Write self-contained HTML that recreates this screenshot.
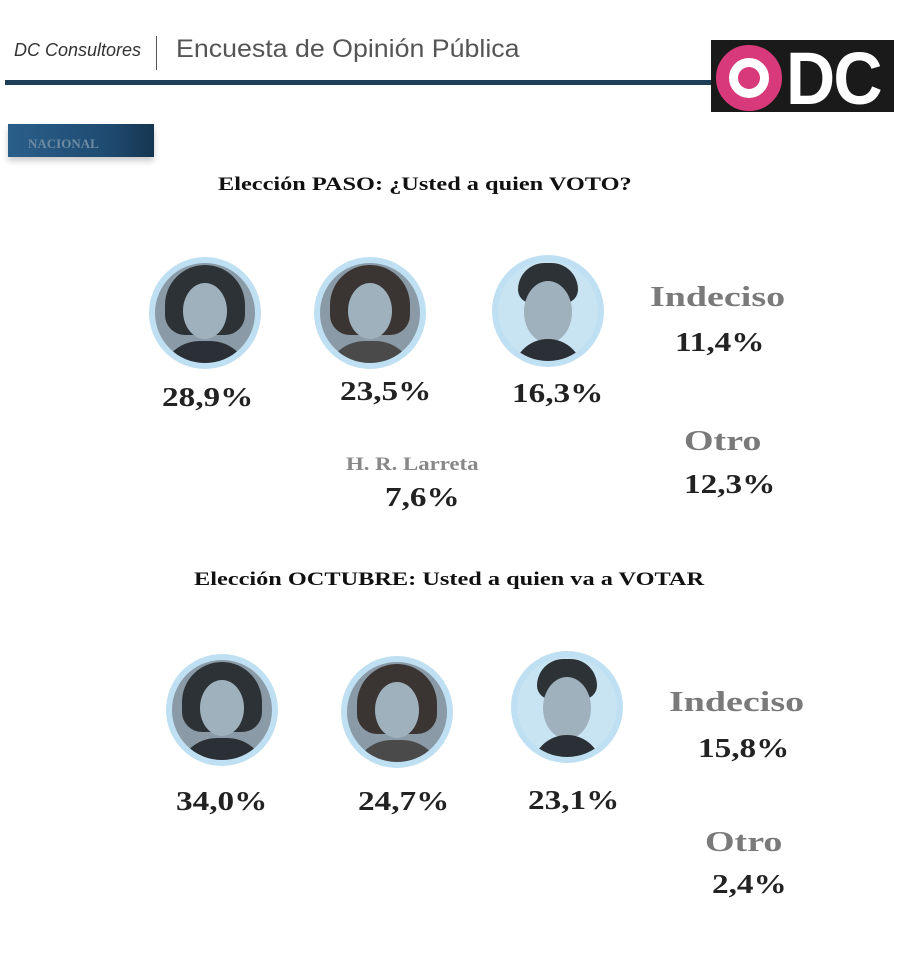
<!DOCTYPE html>
<html><head><meta charset="utf-8"><style>
body{margin:0;width:912px;height:953px;background:#fff;position:relative;overflow:hidden;font-family:"Liberation Serif",serif}
.a{position:absolute;white-space:nowrap;transform-origin:0 0}
.p{font-weight:bold;font-size:27px;color:#222;transform:scaleX(1.23)}
.g{font-weight:bold;font-size:29px;color:#7a7a7a;transform:scaleX(1.31)}
.c{position:absolute;width:112px;height:112px;border-radius:50%;background:#bfe0f2;overflow:hidden}
.c .in{position:absolute;left:6px;top:6px;width:100px;height:100px;border-radius:50%;background:#8a9aa6;overflow:hidden}
.hair{position:absolute;left:10px;top:2px;width:80px;height:70px;border-radius:40px 40px 20px 20px;background:#2c3236}
.face{position:absolute;left:28px;top:20px;width:44px;height:56px;border-radius:50%;background:#9fb1bd}
.body{position:absolute;left:5px;top:78px;width:90px;height:40px;border-radius:40px 40px 0 0;background:#2a3035}
.t{font-weight:bold;font-size:19px;color:#111;transform:scaleX(1.28)}
</style></head><body>
<div class="a" style="left:14px;top:40px;font-family:'Liberation Sans',sans-serif;font-style:italic;font-size:18px;color:#333">DC Consultores</div>
<div class="a" style="left:156px;top:36px;width:1px;height:34px;background:#555"></div>
<div class="a" style="left:176px;top:35px;font-family:'Liberation Sans',sans-serif;font-size:25px;color:#555;transform:scaleX(1.07)">Encuesta de Opinión Pública</div>
<div class="a" style="left:5px;top:80px;width:710px;height:5px;background:#1f3f58"></div>
<div class="a" style="left:711px;top:40px;width:183px;height:72px;background:#1a1a1a"></div>
<div class="a" style="left:716px;top:45px;width:40px;height:40px;border:13px solid #d8397a;border-radius:50%;background:#fff"></div>
<div class="a" style="left:729px;top:58px;width:40px;height:40px;border-radius:50%;background:#d8397a;transform:scale(0.55);transform-origin:50% 50%"></div>
<div class="a" style="left:786px;top:36px;font-family:'Liberation Sans',sans-serif;font-weight:bold;font-size:74px;color:#fff;letter-spacing:-2px;transform:scaleX(0.92)">DC</div>
<div class="a" style="left:8px;top:124px;width:146px;height:33px;background:linear-gradient(90deg,#2a5f8a,#1e4a70 70%,#16364f);box-shadow:0 4px 6px #ccc"></div>
<div class="a" style="left:28px;top:136px;font-size:13px;font-weight:bold;color:#6d8ba3">NACIONAL</div>
<div class="a t" style="left:218px;top:174px">Elección PASO: ¿Usted a quien VOTO?</div>

<div class="c" style="left:149px;top:257px"><div class="in"><div class="hair"></div><div class="face"></div><div class="body"></div></div></div>
<div class="c" style="left:314px;top:257px"><div class="in"><div class="hair" style="background:#3a3433"></div><div class="face"></div><div class="body" style="background:#4a4a4a"></div></div></div>
<div class="c" style="left:492px;top:255px"><div class="in" style="background:#c8e3f2"><div class="hair" style="left:20px;width:60px;height:40px"></div><div class="face" style="left:26px;width:48px;height:62px"></div><div class="body" style="left:15px;width:70px"></div></div></div>
<div class="a p" style="left:162px;top:382px">28,9%</div>
<div class="a p" style="left:340px;top:376px">23,5%</div>
<div class="a p" style="left:512px;top:378px">16,3%</div>
<div class="a g" style="left:650px;top:281px">Indeciso</div>
<div class="a p" style="left:675px;top:327px">11,4%</div>
<div class="a g" style="left:684px;top:425px">Otro</div>
<div class="a p" style="left:684px;top:469px">12,3%</div>
<div class="a" style="left:346px;top:454px;font-size:19px;font-weight:bold;color:#888;transform:scaleX(1.2)">H. R. Larreta</div>
<div class="a p" style="left:385px;top:482px">7,6%</div>

<div class="a t" style="left:194px;top:569px">Elección OCTUBRE: Usted a quien va a VOTAR</div>
<div class="c" style="left:166px;top:654px"><div class="in"><div class="hair"></div><div class="face"></div><div class="body"></div></div></div>
<div class="c" style="left:341px;top:656px"><div class="in"><div class="hair" style="background:#3a3433"></div><div class="face"></div><div class="body" style="background:#4a4a4a"></div></div></div>
<div class="c" style="left:511px;top:651px"><div class="in" style="background:#c8e3f2"><div class="hair" style="left:20px;width:60px;height:40px"></div><div class="face" style="left:26px;width:48px;height:62px"></div><div class="body" style="left:15px;width:70px"></div></div></div>
<div class="a p" style="left:176px;top:786px">34,0%</div>
<div class="a p" style="left:358px;top:786px">24,7%</div>
<div class="a p" style="left:528px;top:785px">23,1%</div>
<div class="a g" style="left:669px;top:686px">Indeciso</div>
<div class="a p" style="left:698px;top:733px">15,8%</div>
<div class="a g" style="left:705px;top:826px">Otro</div>
<div class="a p" style="left:712px;top:869px">2,4%</div>
</body></html>
